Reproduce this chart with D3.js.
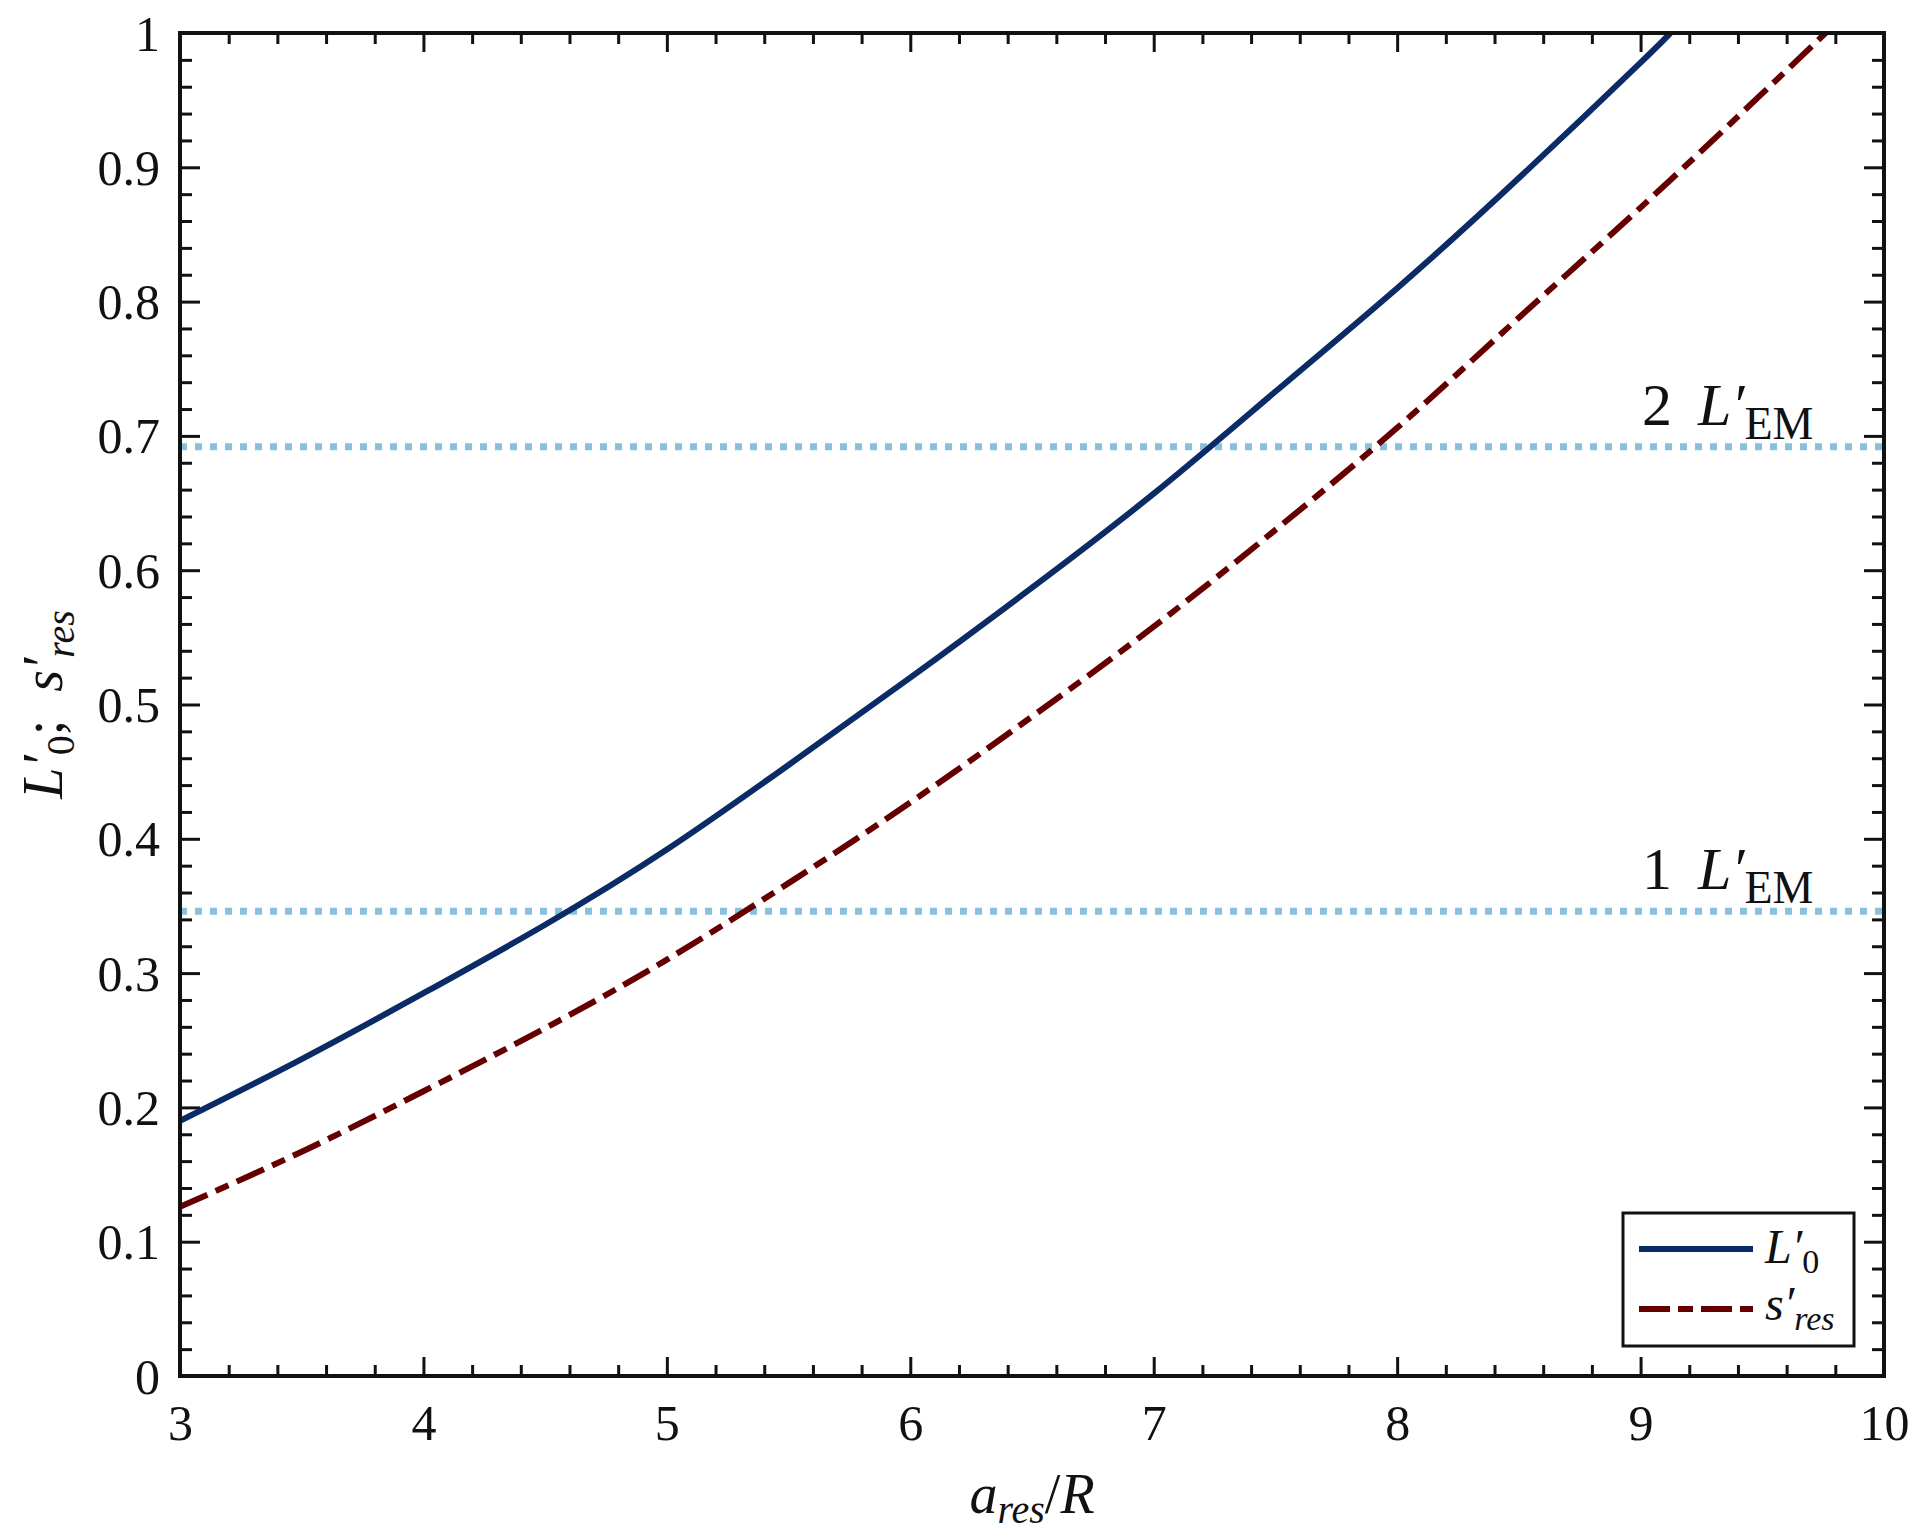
<!DOCTYPE html>
<html>
<head>
<meta charset="utf-8">
<script src="https://cdn.jsdelivr.net/npm/d3@7"></script>
<style>
  html, body { margin: 0; padding: 0; background: #fff; }
  svg { display: block; }
  text { font-family: "Liberation Serif", "DejaVu Serif", serif; fill: #111; }
</style>
</head>
<body>
<svg id="chart" width="1920" height="1539"></svg>
<script>
// ---- data ----
const xL0   = [3, 3.5, 4, 4.5, 5, 5.5, 6, 6.5, 7, 7.5, 8, 8.5, 9, 9.122];
const yL0   = [0.190, 0.236, 0.285, 0.336, 0.392, 0.455, 0.520, 0.587, 0.657, 0.733, 0.810, 0.892, 0.978, 1.0];
const xSres = [3, 3.5, 4, 4.5, 5, 5.5, 6, 6.5, 7, 7.5, 8, 8.5, 9, 9.5, 9.76];
const ySres = [0.126, 0.167, 0.212, 0.259, 0.310, 0.367, 0.427, 0.491, 0.558, 0.630, 0.706, 0.788, 0.870, 0.955, 1.0];
const emLevels = [0.346, 0.692];
const emLabels = ["1", "2"];
const xTicks = [3, 4, 5, 6, 7, 8, 9, 10];
const yTicks = [0, 0.1, 0.2, 0.3, 0.4, 0.5, 0.6, 0.7, 0.8, 0.9, 1];

const svg = d3.select("#chart");
const L = 180, R = 1884, T = 33, B = 1376;
const x = d3.scaleLinear().domain([3, 10]).range([L, R]);
const y = d3.scaleLinear().domain([0, 1]).range([B, T]);

const xMinor = d3.range(3, 10.001, 0.2).filter(v => Math.abs(v - Math.round(v)) > 1e-6);
const yMinor = d3.range(0, 1.0001, 0.02).filter(v => Math.abs(v * 10 - Math.round(v * 10)) > 1e-6);

svg.append("defs").append("clipPath").attr("id", "clip")
  .append("rect").attr("x", L).attr("y", T).attr("width", R - L).attr("height", B - T);

function styleAxis(g, w) {
  g.select(".domain").remove();
  g.selectAll(".tick line").attr("stroke", "#111").attr("stroke-width", w);
}

// bottom
const gb = svg.append("g").attr("transform", `translate(0,${B})`)
  .call(d3.axisBottom(x).tickValues(xTicks).tickSize(-19).tickSizeOuter(0).tickFormat(d3.format("d")));
styleAxis(gb, 3);
gb.selectAll(".tick text").attr("y", 0).attr("dy", 64).attr("font-size", 50);
const gbm = svg.append("g").attr("transform", `translate(0,${B})`)
  .call(d3.axisBottom(x).tickValues(xMinor).tickSize(-11).tickSizeOuter(0).tickFormat(""));
styleAxis(gbm, 3);
// top
const gt = svg.append("g").attr("transform", `translate(0,${T})`)
  .call(d3.axisTop(x).tickValues(xTicks).tickSize(-19).tickSizeOuter(0).tickFormat(""));
styleAxis(gt, 3);
const gtm = svg.append("g").attr("transform", `translate(0,${T})`)
  .call(d3.axisTop(x).tickValues(xMinor).tickSize(-11).tickSizeOuter(0).tickFormat(""));
styleAxis(gtm, 3);
// left
const gl = svg.append("g").attr("transform", `translate(${L},0)`)
  .call(d3.axisLeft(y).tickValues(yTicks).tickSize(-20).tickSizeOuter(0)
    .tickFormat(d => (d === 0 ? "0" : d === 1 ? "1" : d.toFixed(1))));
styleAxis(gl, 3);
gl.selectAll(".tick text").attr("x", -20).attr("dy", 17).attr("font-size", 50);
const glm = svg.append("g").attr("transform", `translate(${L},0)`)
  .call(d3.axisLeft(y).tickValues(yMinor).tickSize(-12).tickSizeOuter(0).tickFormat(""));
styleAxis(glm, 3);
// right
const gr = svg.append("g").attr("transform", `translate(${R},0)`)
  .call(d3.axisRight(y).tickValues(yTicks).tickSize(-20).tickSizeOuter(0).tickFormat(""));
styleAxis(gr, 3);
const grm = svg.append("g").attr("transform", `translate(${R},0)`)
  .call(d3.axisRight(y).tickValues(yMinor).tickSize(-12).tickSizeOuter(0).tickFormat(""));
styleAxis(grm, 3);

// reference levels (dotted)
const plot = svg.append("g").attr("clip-path", "url(#clip)");
emLevels.forEach(v => {
  plot.append("line")
    .attr("x1", x(3)).attr("x2", x(10)).attr("y1", y(v)).attr("y2", y(v))
    .attr("stroke", "#88c0de").attr("stroke-width", 7).attr("stroke-dasharray", "7,8");
});

// curves
const line = d3.line().x(d => x(d[0])).y(d => y(d[1])).curve(d3.curveNatural);
const dL0 = xL0.map((v, i) => [v, yL0[i]]);
const dS = xSres.map((v, i) => [v, ySres[i]]);
plot.append("path").attr("d", line(dL0)).attr("fill", "none")
  .attr("stroke", "#0b2b66").attr("stroke-width", 6);
plot.append("path").attr("d", line(dS)).attr("fill", "none")
  .attr("stroke", "#660000").attr("stroke-width", 6).attr("stroke-dasharray", "30,9,14,9");

// frame
svg.append("rect").attr("x", L).attr("y", T).attr("width", R - L).attr("height", B - T)
  .attr("fill", "none").attr("stroke", "#111").attr("stroke-width", 4);

// EM labels
emLevels.forEach((v, i) => {
  const t = svg.append("text").attr("x", 1642).attr("y", y(v) - 22).attr("font-size", 60);
  t.append("tspan").text(emLabels[i]);
  t.append("tspan").attr("dx", 26).attr("font-style", "italic").text("L\u2032");
  t.append("tspan").attr("dy", 14).attr("font-size", 46).text("EM");
});

// axis labels
const xl = svg.append("text").attr("x", x(6.5)).attr("y", 1513).attr("text-anchor", "middle").attr("font-size", 56);
xl.append("tspan").attr("font-style", "italic").text("a");
xl.append("tspan").attr("font-style", "italic").attr("font-size", 40).attr("dy", 10).text("res");
xl.append("tspan").attr("dy", -10).text("/");
xl.append("tspan").attr("font-style", "italic").text("R");

const yl = svg.append("text").attr("transform", `translate(62,${(T + B) / 2}) rotate(-90)`)
  .attr("text-anchor", "middle").attr("font-size", 56);
yl.append("tspan").attr("font-style", "italic").text("L\u2032");
yl.append("tspan").attr("dy", 12).attr("font-size", 40).text("0");
yl.append("tspan").attr("dy", -12).text(";\u2002");
yl.append("tspan").attr("font-style", "italic").text("s\u2032");
yl.append("tspan").attr("dy", 12).attr("font-style", "italic").attr("font-size", 40).text("res");

// legend
svg.append("rect").attr("x", 1623).attr("y", 1213).attr("width", 231).attr("height", 133)
  .attr("fill", "#fff").attr("stroke", "#111").attr("stroke-width", 3);
svg.append("line").attr("x1", 1639).attr("x2", 1753).attr("y1", 1249).attr("y2", 1249)
  .attr("stroke", "#0b2b66").attr("stroke-width", 6);
svg.append("line").attr("x1", 1639).attr("x2", 1753).attr("y1", 1309).attr("y2", 1309)
  .attr("stroke", "#660000").attr("stroke-width", 6).attr("stroke-dasharray", "31,8,15,8");
const lg1 = svg.append("text").attr("x", 1765).attr("y", 1263).attr("font-size", 48);
lg1.append("tspan").attr("font-style", "italic").text("L\u2032");
lg1.append("tspan").attr("dy", 10).attr("font-size", 34).text("0");
const lg2 = svg.append("text").attr("x", 1765).attr("y", 1320).attr("font-size", 48);
lg2.append("tspan").attr("font-style", "italic").text("s\u2032");
lg2.append("tspan").attr("dy", 10).attr("font-style", "italic").attr("font-size", 34).text("res");
</script>
</body>
</html>
